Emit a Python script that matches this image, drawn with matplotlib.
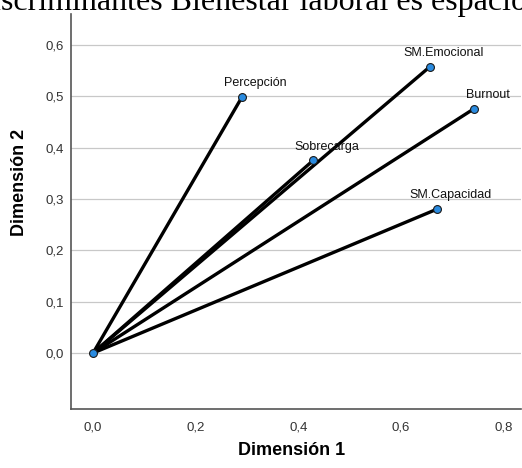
import matplotlib.pyplot as plt

# Discriminant function loadings
variables = ["Percepción", "SM.Emocional", "Burnout", "Sobrecarga", "SM.Capacidad"]
dim1 = [0.290, 0.656, 0.743, 0.429, 0.670]
dim2 = [0.498, 0.557, 0.476, 0.375, 0.280]

x_ticks = [0.0, 0.2, 0.4, 0.6, 0.8]
x_tick_labels = ["0,0", "0,2", "0,4", "0,6", "0,8"]
y_ticks = [0.0, 0.1, 0.2, 0.3, 0.4, 0.5, 0.6]
y_tick_labels = ["0,0", "0,1", "0,2", "0,3", "0,4", "0,5", "0,6"]


def main():
    plt.rcParams['font.family'] = ['Liberation Sans', 'DejaVu Sans']
    fig = plt.figure(figsize=(5.22, 4.68), dpi=100)
    ax = fig.add_axes([0.136, 0.126, 0.862, 0.844])

    # Cropped caption from the page above the chart
    fig.text(-0.06, 1 - 10 / 468, "Discriminantes Bienestar laboral es espacio",
             family=['Liberation Serif', 'DejaVu Serif'], fontsize=23,
             ha='left', va='baseline')

    # Vectors from origin
    for x, y in zip(dim1, dim2):
        ax.plot([0, x], [0, y], color='black', lw=2.4, solid_capstyle='round', zorder=2)

    ax.scatter([0] + dim1, [0] + dim2, s=32, color='#2a8be0', edgecolors='#1a1a1a',
               linewidths=0.8, zorder=3)

    for name, x, y in zip(variables, dim1, dim2):
        ax.annotate(name, (x, y), xytext=(10, 10), textcoords='offset points',
                    ha='center', va='center', fontsize=9, color='#111111')

    ax.set_xlim(-0.043, 0.834)
    ax.set_ylim(-0.109, 0.66)
    ax.set_xticks(x_ticks)
    ax.set_xticklabels(x_tick_labels)
    ax.set_yticks(y_ticks)
    ax.set_yticklabels(y_tick_labels)
    ax.tick_params(length=0, labelsize=9.5, labelcolor='#333333')
    ax.tick_params(axis='x', pad=9)
    ax.tick_params(axis='y', pad=5)

    ax.grid(axis='y', color='#c8c8c8', lw=0.9, zorder=0)
    ax.set_axisbelow(True)
    for side in ['top', 'right']:
        ax.spines[side].set_visible(False)
    for side in ['left', 'bottom']:
        ax.spines[side].set_color('#555555')
        ax.spines[side].set_linewidth(1.2)

    ax.set_xlabel('Dimensión 1', fontsize=13, fontweight='bold')
    ax.set_ylabel('Dimensión 2', fontsize=13, fontweight='bold')
    # label positions in pixels from the figure, converted to axes coords
    ax.xaxis.set_label_coords((292 - 71) / 450, -(450 - 409) / 395)
    ax.yaxis.set_label_coords(-(71 - 20) / 450, (409 - 182) / 395)
    ax.xaxis.label.set_va('center')
    ax.yaxis.label.set_va('center')

    fig.savefig('out.png', dpi=100)


if __name__ == "__main__":
    main()
